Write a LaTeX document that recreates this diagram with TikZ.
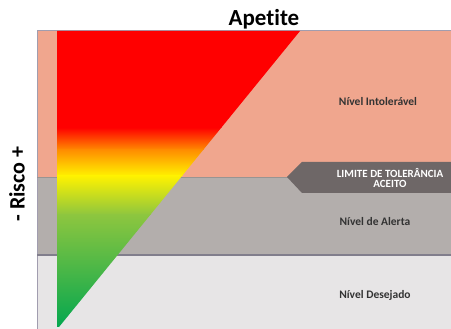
\documentclass[tikz,border=0pt]{standalone}
\usepackage{fontspec}
\setmainfont[Ligatures=NoCommon]{Carlito}
\definecolor{salmon}{HTML}{F0A68E}
\definecolor{alertgray}{HTML}{B3AEAC}
\definecolor{lightband}{HTML}{E7E5E6}
\definecolor{arrowgray}{HTML}{6E6767}
\definecolor{edgeline}{HTML}{A19DAF}
\definecolor{riskred}{HTML}{FF0000}
\definecolor{riskorange}{HTML}{FF8C00}
\definecolor{riskyellow}{HTML}{FFF200}
\definecolor{risklgreen}{HTML}{8DC63F}
\definecolor{riskgreen}{HTML}{00A650}
\tikzset{
  lvl/.style={font=\bfseries\fontsize{11.5}{13}\selectfont, text=black!80},
  arrowtxt/.style={font=\bfseries\fontsize{11}{12}\selectfont, text=white, align=center},
}
\begin{document}
\begin{tikzpicture}[x=1pt,y=-1pt]
\useasboundingbox (0,0) rectangle (451,329);
\fill[white] (0,0) rectangle (451,329);
% bands
\fill[salmon] (37,31) rectangle (451,177);
\fill[alertgray] (37,177) rectangle (451,255);
\fill[lightband] (37,255) rectangle (451,329);
\draw[edgeline, line width=1pt] (37,329) -- (37,31) -- (451,31);
\draw[edgeline!80!black, line width=1.5pt] (37,255) -- (451,255);
\draw[alertgray!85!black, line width=0.6pt] (37,177) -- (451,177);
% triangle with gradient
\begin{scope}
\clip (57,31) -- (300,31) -- (59,327) -- (57,327) -- cycle;
\fill[riskred] (50,25) rectangle (310,128);
\shade[top color=riskred, bottom color=riskorange] (50,127.5) rectangle (310,150);
\shade[top color=riskorange, bottom color=riskyellow] (50,149.5) rectangle (310,176);
\shade[top color=riskyellow, bottom color=risklgreen] (50,175.5) rectangle (310,215);
\shade[top color=risklgreen, bottom color=riskgreen] (50,214.5) rectangle (310,330);
\end{scope}
% arrow label
\fill[arrowgray] (287,177) -- (302,162) -- (451,162) -- (451,193) -- (302,193) -- cycle;
\node[arrowtxt] (limite) at (390,178) {LIMITE DE TOLERÂNCIA\\[-2pt]ACEITO};
% level labels
\node[lvl] (intol) at (378,102) {Nível Intolerável};
\node[lvl] (alerta) at (375,222) {Nível de Alerta};
\node[lvl] (desej) at (375,295) {Nível Desejado};
% titles
\node[font=\bfseries\fontsize{23}{26}\selectfont] (apetite) at (264,19) {Apetite};
\node[font=\bfseries\fontsize{22}{26}\selectfont, rotate=90] (risco) at (17,184) {- Risco +};
\end{tikzpicture}
\end{document}
